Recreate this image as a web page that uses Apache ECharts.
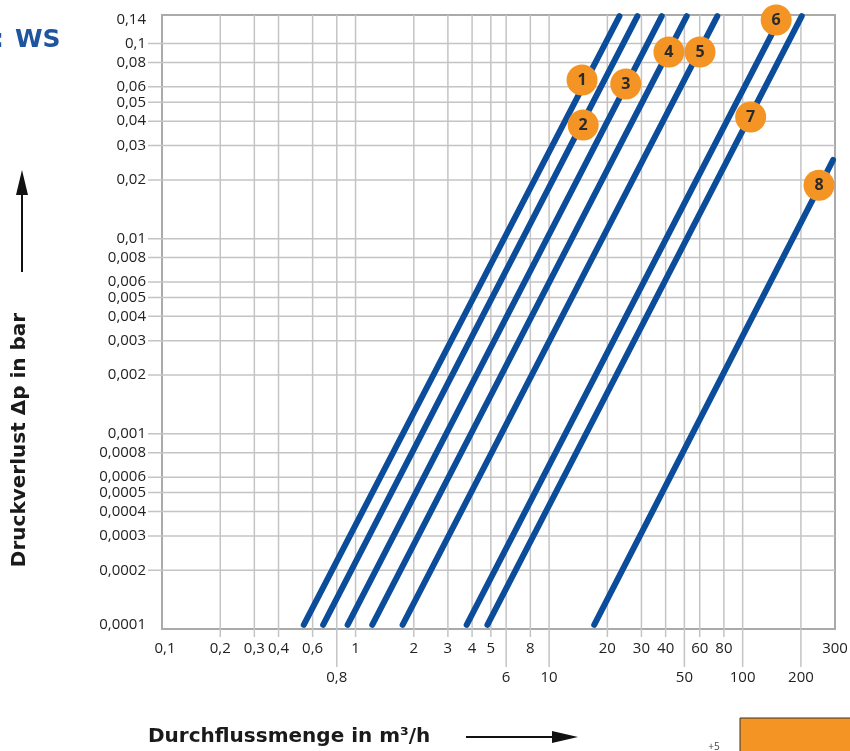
<!DOCTYPE html>
<html>
<head>
<meta charset="utf-8">
<script src="https://cdn.jsdelivr.net/npm/echarts@6/dist/echarts.min.js"></script>
<style>
  html, body { margin: 0; padding: 0; background: #fff; }
  #chart { width: 850px; height: 751px; }
</style>
</head>
<body>
<div id="chart"></div>
<script>
// Druckverlustdiagramm WS: Durchflussmenge (m³/h) gegen Druckverlust (bar), doppelt logarithmisch

const FLOW_MIN = 0.1, FLOW_MAX = 300;
const LOSS_MIN = 0.0001, LOSS_MAX = 0.14;

// Kennlinien 1–8, jeweils Anfangs- und Endpunkt der Geraden
const curveIds  = ['1', '2', '3', '4', '5', '6', '7', '8'];
const flowStart = [0.54, 0.68, 0.91, 1.22, 1.75, 3.75, 4.8, 17.1];
const lossStart = [0.000105, 0.000105, 0.000105, 0.000105, 0.000105, 0.000105, 0.000105, 0.000105];
const flowEnd   = [23.1, 28.6, 38.2, 51.4, 74, 158, 202, 293];
const lossEnd   = [0.138, 0.138, 0.138, 0.138, 0.138, 0.138, 0.138, 0.0253];

// Lage der nummerierten Marken auf den Kennlinien
const badgeFlow = [14.8, 15.0, 24.9, 41.6, 60.2, 149, 110, 248];
const badgeLoss = [0.065, 0.0382, 0.062, 0.0905, 0.0905, 0.132, 0.042, 0.0188];

// Achsbeschriftungen: x in zwei versetzten Reihen
const flowLabelsUpper = [0.1, 0.2, 0.3, 0.4, 0.6, 1, 2, 3, 4, 5, 8, 20, 30, 40, 60, 80, 300];
const flowLabelsLower = [0.8, 6, 10, 50, 100, 200];
const lossLabels = [0.14, 0.1, 0.08, 0.06, 0.05, 0.04, 0.03, 0.02,
                    0.01, 0.008, 0.006, 0.005, 0.004, 0.003, 0.002,
                    0.001, 0.0008, 0.0006, 0.0005, 0.0004, 0.0003, 0.0002, 0.0001];

const GRID_COLOR = '#c4c4c4';
const TEXT_COLOR = '#222';
const LABEL_FONT = '15px "Open Sans", sans-serif';
const TITLE_FONT = 'bold 20px "DejaVu Sans", sans-serif';
const BLUE = '#0b4c9b';
const ORANGE = '#f39424';

function fmt(v) { return String(v).replace('.', ','); }

function renderFlowTick(params, api) {
  const v = api.value(0);
  const lower = api.value(2) === 1;
  const b = api.coord([v, LOSS_MIN]);
  const t = api.coord([v, LOSS_MAX]);
  const edge = v === FLOW_MIN || v === FLOW_MAX;
  const kids = [];
  if (!edge) {
    kids.push({
      type: 'line',
      shape: { x1: b[0], y1: t[1], x2: b[0], y2: b[1] + (lower ? 38 : 8) },
      style: { stroke: GRID_COLOR, lineWidth: 1.5 }
    });
  }
  kids.push({
    type: 'text',
    x: b[0] + (v === FLOW_MIN ? 3 : 0),
    y: b[1] + (lower ? 49 : 20),
    style: { text: fmt(v), align: 'center', verticalAlign: 'middle', fill: TEXT_COLOR, font: LABEL_FONT }
  });
  return { type: 'group', children: kids };
}

function renderLossTick(params, api) {
  const v = api.value(1);
  const l = api.coord([FLOW_MIN, v]);
  const r = api.coord([FLOW_MAX, v]);
  const edge = v === LOSS_MIN || v === LOSS_MAX;
  const kids = [];
  if (!edge) {
    kids.push({
      type: 'line',
      shape: { x1: l[0] - 14, y1: l[1], x2: r[0], y2: r[1] },
      style: { stroke: GRID_COLOR, lineWidth: 1.5 }
    });
  }
  kids.push({
    type: 'text',
    x: l[0] - 16,
    y: l[1] + (v === LOSS_MAX ? 5 : (v === LOSS_MIN ? -4 : 0)),
    style: { text: fmt(v), align: 'right', verticalAlign: 'middle', fill: TEXT_COLOR, font: LABEL_FONT }
  });
  return { type: 'group', children: kids };
}

const flowTickData = flowLabelsUpper.map(v => [v, LOSS_MIN, 0])
  .concat(flowLabelsLower.map(v => [v, LOSS_MIN, 1]));
const lossTickData = lossLabels.map(v => [FLOW_MIN, v]);

const curveSeries = curveIds.map((id, i) => ({
  type: 'line',
  name: 'Kennlinie ' + id,
  data: [[flowStart[i], lossStart[i]], [flowEnd[i], lossEnd[i]]],
  symbol: 'none',
  clip: false,
  silent: true,
  lineStyle: { color: BLUE, width: 6, cap: 'round' },
  z: 3
}));

const chart = echarts.init(document.getElementById('chart'), null, { renderer: 'canvas' });

chart.setOption({
  animation: false,
  backgroundColor: '#fff',
  grid: {
    left: 162, top: 15, width: 673, height: 614,
    show: true, borderColor: '#aaaaaa', borderWidth: 2, backgroundColor: 'transparent'
  },
  xAxis: {
    type: 'log', logBase: 10, min: FLOW_MIN, max: FLOW_MAX,
    axisLine: { show: false }, axisTick: { show: false },
    axisLabel: { show: false }, splitLine: { show: false }
  },
  yAxis: {
    type: 'log', logBase: 10, min: LOSS_MIN, max: LOSS_MAX,
    axisLine: { show: false }, axisTick: { show: false },
    axisLabel: { show: false }, splitLine: { show: false }
  },
  series: [
    {
      type: 'custom', name: 'x-Raster', data: flowTickData,
      encode: { x: 0, y: 1 }, renderItem: renderFlowTick, silent: true, z: 1
    },
    {
      type: 'custom', name: 'y-Raster', data: lossTickData,
      encode: { x: 0, y: 1 }, renderItem: renderLossTick, silent: true, z: 1
    },
    ...curveSeries,
    {
      type: 'scatter',
      name: 'Marken',
      data: curveIds.map((id, i) => [badgeFlow[i], badgeLoss[i], id]),
      symbol: 'circle',
      symbolSize: 31,
      clip: false,
      silent: true,
      itemStyle: { color: ORANGE, opacity: 1 },
      label: {
        show: true, position: 'inside',
        formatter: p => curveIds[p.dataIndex],
        fontFamily: 'Open Sans', fontWeight: 'bold', fontSize: 16, color: '#2a2a2a'
      },
      z: 5
    }
  ],
  graphic: [
    // Kopfzeile (links angeschnitten)
    { type: 'text', x: 4, y: 40, style: { text: ':', align: 'right', verticalAlign: 'middle',
      font: 'bold 25px "DejaVu Sans", sans-serif', fill: '#1d559f' } },
    { type: 'text', x: 15, y: 40, style: { text: 'WS', align: 'left', verticalAlign: 'middle',
      font: 'bold 25px "DejaVu Sans", sans-serif', fill: '#1d559f' } },
    // y-Achsentitel mit Pfeil
    { type: 'text', x: 20, y: 440, rotation: Math.PI / 2,
      style: { text: 'Druckverlust Δp in bar', align: 'center', verticalAlign: 'middle',
        font: TITLE_FONT, fill: '#1a1a1a' } },
    { type: 'line', shape: { x1: 22, y1: 272, x2: 22, y2: 192 }, style: { stroke: '#111', lineWidth: 2 } },
    { type: 'polygon', shape: { points: [[22, 170], [16, 195], [28, 195]] }, style: { fill: '#111' } },
    // x-Achsentitel mit Pfeil
    { type: 'text', x: 148, y: 737,
      style: { text: 'Durchflussmenge in m³/h', align: 'left', verticalAlign: 'middle',
        font: TITLE_FONT, fill: '#1a1a1a' } },
    { type: 'line', shape: { x1: 466, y1: 737, x2: 556, y2: 737 }, style: { stroke: '#111', lineWidth: 2 } },
    { type: 'polygon', shape: { points: [[578, 737], [552, 731], [552, 743]] }, style: { fill: '#111' } },
    // Fußbereich rechts
    { type: 'text', x: 714, y: 747, style: { text: '+5', align: 'center', verticalAlign: 'middle',
      font: '10px "Open Sans", sans-serif', fill: '#444' } },
    { type: 'rect', shape: { x: 740, y: 718, width: 112, height: 40 },
      style: { fill: ORANGE, stroke: '#333', lineWidth: 1 } }
  ]
});
</script>
</body>
</html>
